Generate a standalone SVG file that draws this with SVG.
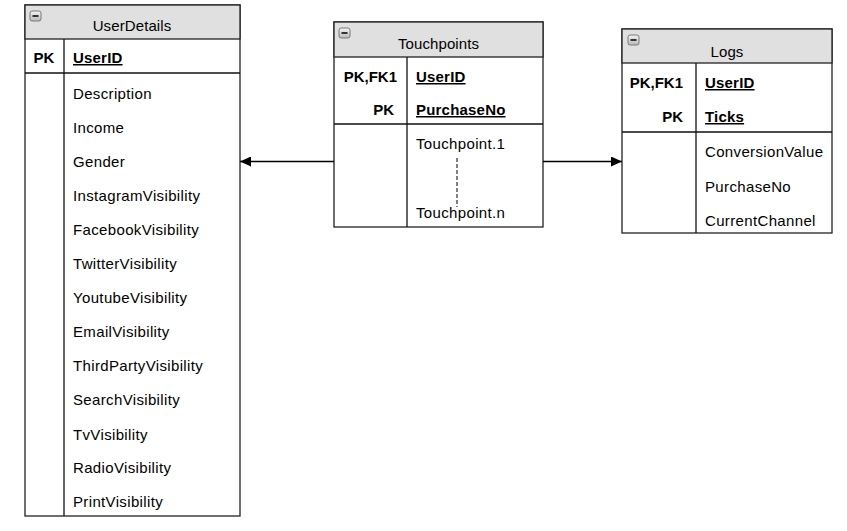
<svg xmlns="http://www.w3.org/2000/svg" width="847" height="531" viewBox="0 0 847 531">
<defs>
<linearGradient id="ig" x1="0" y1="0" x2="0" y2="1">
<stop offset="0" stop-color="#f4f4f4"/>
<stop offset="1" stop-color="#b8b8b8"/>
</linearGradient>
<marker id="arr" viewBox="0 0 11 10" refX="11" refY="5" markerWidth="11" markerHeight="10" markerUnits="userSpaceOnUse" orient="auto">
<path d="M0,0 L11,5 L0,10 Z" fill="#000"/>
</marker>
<g id="minus">
<rect x="0" y="0" width="11" height="10" rx="2" fill="url(#ig)" stroke="#7a7a7a" stroke-width="1"/>
<rect x="2.5" y="4" width="6" height="2" fill="#333"/>
</g>
</defs>
<style>
.box{fill:#fff;stroke:#222;stroke-width:1.3}
.hdr{fill:#e0e0e0;stroke:#222;stroke-width:1.3}
.ln{stroke:#111;stroke-width:1.3;fill:none}
text{font-family:"Liberation Sans",Arial,sans-serif;font-size:15px;fill:#000;letter-spacing:0.35px}
.t{text-anchor:middle;letter-spacing:0.1px}
.b{font-weight:bold}
.k{font-weight:bold;text-decoration:underline;letter-spacing:0.2px}
.e{text-anchor:end;font-weight:bold;letter-spacing:0}
.c{text-anchor:middle;font-weight:bold;letter-spacing:0}
.con{stroke:#000;stroke-width:1.3;fill:none}
</style>
<rect width="847" height="531" fill="#fff"/>

<g id="UserDetails">
<rect class="box" x="25" y="5" width="215" height="511"/>
<rect class="hdr" x="25" y="5" width="215" height="34"/>
<use href="#minus" x="30" y="11"/>
<text class="t" x="132" y="31">UserDetails</text>
<line class="ln" x1="25" y1="73" x2="240" y2="73"/>
<line class="ln" x1="64" y1="39" x2="64" y2="516"/>
<text class="c" x="44" y="63">PK</text>
<text class="k" x="73" y="63">UserID</text>
<text x="73" y="99">Description</text>
<text x="73" y="133">Income</text>
<text x="73" y="167">Gender</text>
<text x="73" y="201">InstagramVisibility</text>
<text x="73" y="235">FacebookVisibility</text>
<text x="73" y="269">TwitterVisibility</text>
<text x="73" y="303">YoutubeVisibility</text>
<text x="73" y="337">EmailVisibility</text>
<text x="73" y="371">ThirdPartyVisibility</text>
<text x="73" y="405">SearchVisibility</text>
<text x="73" y="440">TvVisibility</text>
<text x="73" y="473">RadioVisibility</text>
<text x="73" y="507">PrintVisibility</text>
</g>

<g id="Touchpoints">
<rect class="box" x="334" y="22" width="209" height="205"/>
<rect class="hdr" x="334" y="22" width="209" height="35"/>
<use href="#minus" x="339" y="28"/>
<text class="t" x="438.5" y="49">Touchpoints</text>
<line class="ln" x1="334" y1="124" x2="543" y2="124"/>
<line class="ln" x1="407" y1="57" x2="407" y2="227"/>
<text class="e" x="397" y="82">PK,FK1</text>
<text class="e" x="394" y="115">PK</text>
<text class="k" x="416" y="82">UserID</text>
<text class="k" x="416" y="115">PurchaseNo</text>
<text x="416" y="149">Touchpoint.1</text>
<text x="416" y="218">Touchpoint.n</text>
<line x1="457" y1="158" x2="457" y2="207" stroke="#000" stroke-width="1" stroke-dasharray="4,2"/>
</g>

<g id="Logs">
<rect class="box" x="622" y="29" width="210" height="204"/>
<rect class="hdr" x="622" y="29" width="210" height="34"/>
<use href="#minus" x="628" y="35"/>
<text class="t" x="727" y="57">Logs</text>
<line class="ln" x1="622" y1="132" x2="832" y2="132"/>
<line class="ln" x1="696" y1="63" x2="696" y2="233"/>
<text class="e" x="683" y="88">PK,FK1</text>
<text class="e" x="683" y="122">PK</text>
<text class="k" x="705" y="88">UserID</text>
<text class="k" x="705" y="122">Ticks</text>
<text x="705" y="157">ConversionValue</text>
<text x="705" y="192">PurchaseNo</text>
<text x="705" y="226">CurrentChannel</text>
</g>

<g id="connectors">
<line class="con" x1="334" y1="161.5" x2="240" y2="161.5" marker-end="url(#arr)"/>
<line class="con" x1="543" y1="161.5" x2="622" y2="161.5" marker-end="url(#arr)"/>
</g>
</svg>
